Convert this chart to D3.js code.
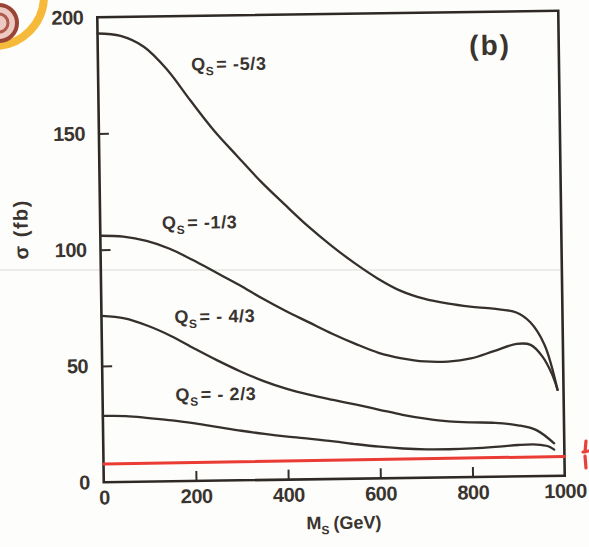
<!DOCTYPE html>
<html>
<head>
<meta charset="utf-8">
<script src="https://cdn.jsdelivr.net/npm/d3@7"></script>
<style>
  html, body { margin: 0; padding: 0; background: #fdfdfb; }
  svg { display: block; }
</style>
</head>
<body>
<svg id="chart" width="589" height="547"></svg>
<script>
// Cross section sigma (fb) against scalar mass M_S (GeV), one curve per charge Q_S.
const chargeLabels = ["-5/3", "-1/3", "- 4/3", "- 2/3"];

const sigmaQm53 = [[0,193],[50,191.8],[100,187],[150,177],[200,163.5],[250,150.5],[300,139.3],[350,128.3],
  [400,118.5],[450,109],[500,100.5],[550,92.8],[600,86],[650,80.5],[700,77],[750,74.8],[800,73.3],
  [850,72.3],[900,70.5],[930,66.2],[960,56.5],[987,37]];

const sigmaQm13 = [[0,106],[50,105.5],[100,103.5],[150,100],[200,95],[250,89.5],[300,84],[350,78],
  [400,72.5],[450,67.5],[500,62.5],[550,58],[600,54],[650,51.5],[700,50],[750,49.8],[800,51],
  [850,54],[900,57],[930,56.5],[955,51.5],[975,44],[987,37]];

const sigmaQm43 = [[0,71.5],[50,70.3],[100,67],[150,62.5],[200,57],[250,51.7],[300,46.8],[350,42.5],
  [400,39],[450,36.3],[500,34],[550,31.8],[600,29.5],[650,27.2],[700,25.4],[750,24.1],[800,23.5],
  [850,23.2],[900,22],[940,19.8],[978,14]];

const sigmaQm23 = [[0,28.5],[50,28.3],[100,27.3],[150,26.2],[200,24.7],[250,23],[300,21.3],[350,19.8],
  [400,18.5],[450,17.4],[500,16.2],[550,14.8],[600,13.6],[650,12.7],[700,12.2],[750,12.1],[800,12.3],
  [850,12.8],[900,13.5],[940,13.6],[965,12.8],[978,11.3]];

// hand-drawn reference level across the panel
const redLevel = [[0,7.8],[1000,8.3]];

const xTickValues = [0, 200, 400, 600, 800, 1000];
const yTickValues = [0, 50, 100, 150, 200];

const svg = d3.select("#chart");
const ink = "#35302b";
const textInk = "#3a342f";
const font = "Liberation Sans, Arial, sans-serif";

// paper fold line
svg.append("line")
  .attr("x1", 0).attr("x2", 560).attr("y1", 270).attr("y2", 270)
  .attr("stroke", "#dadada").attr("stroke-width", 1);

// marker ring in the corner
svg.append("circle").attr("cx", -6).attr("cy", -4).attr("r", 50)
  .attr("fill", "none").attr("stroke", "#f4b323").attr("stroke-width", 8).attr("opacity", 0.9);
svg.append("circle").attr("cx", -1).attr("cy", 23).attr("r", 18)
  .attr("fill", "#ecc9c2").attr("stroke", "#9a4436").attr("stroke-width", 4);
svg.append("circle").attr("cx", -1).attr("cy", 23).attr("r", 9)
  .attr("fill", "none").attr("stroke", "#b0584a").attr("stroke-width", 3);

// red pen stroke at the right edge
svg.append("path")
  .attr("d", "M586,441 L585,452 M583,452 L589,451 M585,456 L586,468")
  .attr("fill", "none").attr("stroke", "#e8403a").attr("stroke-width", 3.2).attr("stroke-linecap", "round");

// the scanned panel sits slightly tilted
const g = svg.append("g").attr("transform", "rotate(-0.8, 331, 246)");

const x = d3.scaleLinear().domain([0, 1000]).range([100.5, 561.5]);
const y = d3.scaleLinear().domain([0, 200]).range([479, 14]);

// x axis (ticks point inward)
const xAxis = g.append("g").attr("transform", `translate(0,${y(0)})`)
  .call(d3.axisBottom(x).tickValues(xTickValues).tickSize(-10).tickPadding(8).tickFormat(d3.format("d")));
xAxis.select(".domain").remove();
xAxis.selectAll(".tick line").attr("stroke", ink).attr("stroke-width", 2)
  .attr("display", d => (d === 0 || d === 1000) ? "none" : null);
xAxis.selectAll(".tick text").attr("font-family", font).attr("font-weight", "bold")
  .attr("font-size", 20).attr("letter-spacing", "-0.5px").attr("fill", textInk);

// y axis
const yAxis = g.append("g").attr("transform", `translate(${x(0)},0)`)
  .call(d3.axisLeft(y).tickValues(yTickValues).tickSize(-10).tickPadding(14).tickFormat(d3.format("d")));
yAxis.select(".domain").remove();
yAxis.selectAll(".tick line").attr("stroke", ink).attr("stroke-width", 2)
  .attr("display", d => (d === 0 || d === 200) ? "none" : null);
yAxis.selectAll(".tick text").attr("font-family", font).attr("font-weight", "bold")
  .attr("font-size", 20).attr("letter-spacing", "-0.5px").attr("fill", textInk);

// frame
g.append("rect")
  .attr("x", x(0)).attr("y", y(200))
  .attr("width", x(1000) - x(0)).attr("height", y(0) - y(200))
  .attr("fill", "none").attr("stroke", "#2e2924").attr("stroke-width", 2.6);

// curves
const line = d3.line().x(d => x(d[0])).y(d => y(d[1])).curve(d3.curveCatmullRom.alpha(0.5));
const curves = [sigmaQm53, sigmaQm13, sigmaQm43, sigmaQm23];
g.selectAll("path.curve").data(curves).enter().append("path")
  .attr("class", "curve")
  .attr("d", line)
  .attr("fill", "none").attr("stroke", ink).attr("stroke-width", 2.3)
  .attr("stroke-linecap", "round");

// red level line
g.append("path").attr("d", d3.line().x(d => x(d[0])).y(d => y(d[1]))(redLevel))
  .attr("fill", "none").attr("stroke", "#ea3b35").attr("stroke-width", 3).attr("stroke-linecap", "round");

// curve labels, anchored in (M, sigma)
const labelAnchors = [[202, 176.5], [134, 108.5], [158, 68], [158, 34.5]];
labelAnchors.forEach((a, i) => {
  const t = g.append("text")
    .attr("x", x(a[0])).attr("y", y(a[1]))
    .attr("font-family", font).attr("font-weight", "bold")
    .attr("font-size", 18).attr("letter-spacing", "0.6px").attr("fill", textInk);
  t.append("tspan").text("Q");
  t.append("tspan").attr("font-size", 12).attr("dy", 5).text("S");
  t.append("tspan").attr("dy", -5).attr("dx", 2).text("= " + chargeLabels[i]);
});

// panel tag
g.append("text").attr("x", 472).attr("y", 57)
  .attr("font-family", font).attr("font-weight", "bold")
  .attr("font-size", 28).attr("letter-spacing", "2px").attr("fill", textInk).text("(b)");

// axis titles
const xt = g.append("text").attr("x", 340).attr("y", 529).attr("text-anchor", "middle")
  .attr("font-family", font).attr("font-weight", "bold")
  .attr("font-size", 18).attr("fill", textInk);
xt.append("tspan").text("M");
xt.append("tspan").attr("font-size", 12).attr("dy", 5).text("S");
xt.append("tspan").attr("dy", -5).attr("dx", 4).text("(GeV)");

g.append("text")
  .attr("transform", "translate(28,225) rotate(-90)")
  .attr("text-anchor", "middle")
  .attr("font-family", font).attr("font-weight", "bold")
  .attr("font-size", 20).attr("letter-spacing", "1.5px").attr("fill", textInk)
  .text("σ  (fb)");
</script>
</body>
</html>
